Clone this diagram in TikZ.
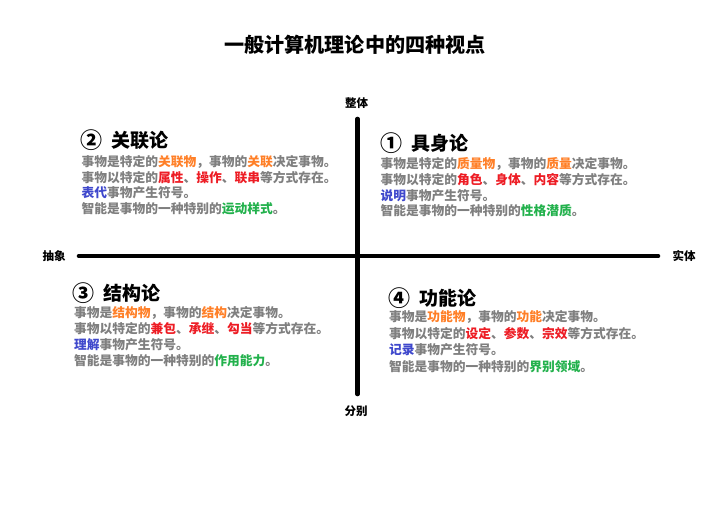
\documentclass[tikz,border=0pt]{standalone}
\usepackage{fontspec}
\newfontfamily\cjk{Noto Sans CJK SC}
\definecolor{txtgray}{HTML}{7F7F7F}
\definecolor{qorange}{HTML}{FF7F27}
\definecolor{qred}{HTML}{ED1C24}
\definecolor{qblue}{HTML}{3F48CC}
\definecolor{qgreen}{HTML}{22B14C}
\newcommand\Ot[1]{\textcolor{qorange}{#1}}
\newcommand\Rt[1]{\textcolor{qred}{#1}}
\newcommand\Bt[1]{\textcolor{qblue}{#1}}
\newcommand\Gt[1]{\textcolor{qgreen}{#1}}
\newcommand\BigNum[1]{\raisebox{-1.2pt}{\fontsize{22}{22}\selectfont #1}}
\begin{document}
\begin{tikzpicture}[x=1pt,y=-1pt,
  bodyline/.style={anchor=west, inner sep=0pt, text=txtgray, font=\cjk\bfseries\fontsize{12.75}{15}\selectfont},
  heading/.style={anchor=west, inner sep=0pt, text=black, font=\cjk\bfseries\fontsize{19}{22}\selectfont},
  axislabel/.style={inner sep=0pt, text=black, font=\cjk\bfseries\fontsize{11.5}{14}\selectfont},
  titletext/.style={inner sep=0pt, text=black, font=\cjk\bfseries\fontsize{20.1}{24}\selectfont},
  axis/.style={line width=4.6pt, line cap=round, draw=black}]
\useasboundingbox (0,0) rectangle (726,505);

\node[titletext] (title) at (355,45) {一般计算机理论中的四种视点};

% axes
\coordinate (top) at (357.5,119);
\coordinate (bottom) at (357.5,394);
\coordinate (left) at (79,256);
\coordinate (right) at (658,256);
\draw[axis] (top) -- (bottom);
\draw[axis] (left) -- (right);

\node[axislabel] (lbltop) at (356.5,103) {整体};
\node[axislabel] (lblbottom) at (356,411) {分别};
\node[axislabel] (lblleft) at (54,256.5) {抽象};
\node[axislabel] (lblright) at (684,256) {实体};

% Quadrant 2
\node[heading] (h2) at (80,140) {\BigNum{②}\hspace{9pt}关联论};
\node[bodyline] (q2a) at (81.5,161.5) {事物是特定的\Ot{关联物}，事物的\Ot{关联}决定事物。};
\node[bodyline] (q2b) at (81.5,177.5) {事物以特定的\Rt{属性}、\Rt{操作}、\Rt{联串}等方式存在。};
\node[bodyline] (q2c) at (81.5,193) {\Bt{表代}事物产生符号。};
\node[bodyline] (q2d) at (81.5,209) {智能是事物的一种特别的\Gt{运动样式}。};

% Quadrant 1
\node[heading] (h1) at (380,143) {\BigNum{①}\hspace{9pt}具身论};
\node[bodyline] (q1a) at (380.5,164) {事物是特定的\Ot{质量物}，事物的\Ot{质量}决定事物。};
\node[bodyline] (q1b) at (380.5,180) {事物以特定的\Rt{角色}、\Rt{身体}、\Rt{内容}等方式存在。};
\node[bodyline] (q1c) at (380.5,195.5) {\Bt{说明}事物产生符号。};
\node[bodyline] (q1d) at (380.5,211) {智能是事物的一种特别的\Gt{性格潜质}。};

% Quadrant 3
\node[heading] (h3) at (72.5,293.5) {\BigNum{③}\hspace{9pt}结构论};
\node[bodyline] (q3a) at (74,312.5) {事物是\Ot{结构物}，事物的\Ot{结构}决定事物。};
\node[bodyline] (q3b) at (74,329) {事物以特定的\Rt{兼包}、\Rt{承继}、\Rt{勾当}等方式存在。};
\node[bodyline] (q3c) at (74,345) {\Bt{理解}事物产生符号。};
\node[bodyline] (q3d) at (74,361) {智能是事物的一种特别的\Gt{作用能力}。};

% Quadrant 4
\node[heading] (h4) at (388.5,298) {\BigNum{④}\hspace{9pt}功能论};
\node[bodyline] (q4a) at (389,317) {事物是\Ot{功能物}，事物的\Ot{功能}决定事物。};
\node[bodyline] (q4b) at (389,333.5) {事物以特定的\Rt{设定}、\Rt{参数}、\Rt{宗效}等方式存在。};
\node[bodyline] (q4c) at (389,350) {\Bt{记录}事物产生符号。};
\node[bodyline] (q4d) at (389,366.5) {智能是事物的一种特别的\Gt{界别领域}。};
\end{tikzpicture}
\end{document}
